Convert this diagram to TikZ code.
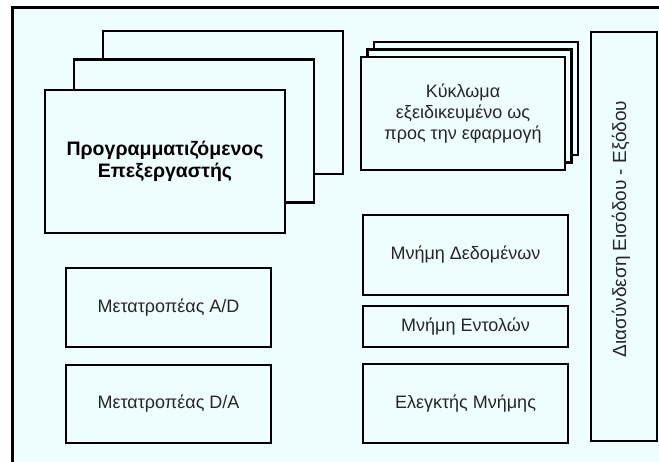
\documentclass[tikz,border=0pt]{standalone}
\usepackage{fontspec}
\setmainfont{Liberation Sans}
\usepackage{tikz}
\usetikzlibrary{positioning, calc}
\definecolor{panelcyan}{HTML}{EEFEFE}
\definecolor{labelgray}{HTML}{262626}
\tikzset{
  unitbox/.style={draw=black, line width=2.6pt, fill=panelcyan, text=labelgray,
    align=center, inner sep=0pt, font=\fontsize{18}{21}\selectfont},
  cpubox/.style={unitbox, minimum width=240pt, minimum height=143pt},
  asicbox/.style={unitbox, minimum width=204pt, minimum height=113pt},
  sidebox/.style={unitbox, minimum width=205pt},
}

\begin{document}
\begin{tikzpicture}[x=1pt, y=1pt]
    \useasboundingbox (0,0) rectangle (659,461);
    \fill[white] (0,0) rectangle (659,461);
    \clip (0,0) rectangle (659,461);
    % panel
    \fill[panelcyan] (12,-10) rectangle (670,453);
    \draw[line width=3pt] (12,-10) |- (670,453);

    % programmable processor (stack of three)
    \coordinate (cpupos) at (165,301.5);
    \node[cpubox] (cpuback) at ($(cpupos)+(58,57)$) {};
    \node[cpubox] (cpumid) at ($(cpupos)+(29,28.5)$) {};
    \node[cpubox, text=black, font=\fontsize{19.5}{22}\selectfont\bfseries]
      (cpu) at ($(cpupos)+(0,-2)$) {Προγραμματιζόμενος\\Επεξεργαστής};

    % application specific circuit (stack of three)
    \coordinate (asicpos) at (463,347.5);
    \node[asicbox] (asicback) at ($(asicpos)+(13,15)$) {};
    \node[asicbox] (asicmid) at ($(asicpos)+(6.5,7.5)$) {};
    \node[asicbox] (asic) at (asicpos) {Κύκλωμα\\εξειδικευμένο ως\\προς την εφαρμογή};

    % converters
    \node[sidebox, minimum height=79pt] (adc) at (168.5,153.5) {Μετατροπέας A/D};
    \node[sidebox, minimum height=78pt] (dac) at (168.5,57) {Μετατροπέας D/A};

    % memories
    \node[sidebox, minimum height=80pt] (datamem) at (465.5,206) {Μνήμη Δεδομένων};
    \node[sidebox, minimum height=41pt] (instrmem) at (465.5,134.5) {Μνήμη Εντολών};
    \node[sidebox, minimum height=79pt] (memctrl) at (465.5,57.5) {Ελεγκτής Μνήμης};

    % input / output interface
    \node[unitbox, minimum width=66pt, minimum height=409pt] (io) at (624,224.5) {};
    \node[rotate=90, text=labelgray, font=\fontsize{19}{22}\selectfont]
      (iolabel) at (621,232) {Διασύνδεση Εισόδου - Εξόδου};
\end{tikzpicture}
\end{document}
